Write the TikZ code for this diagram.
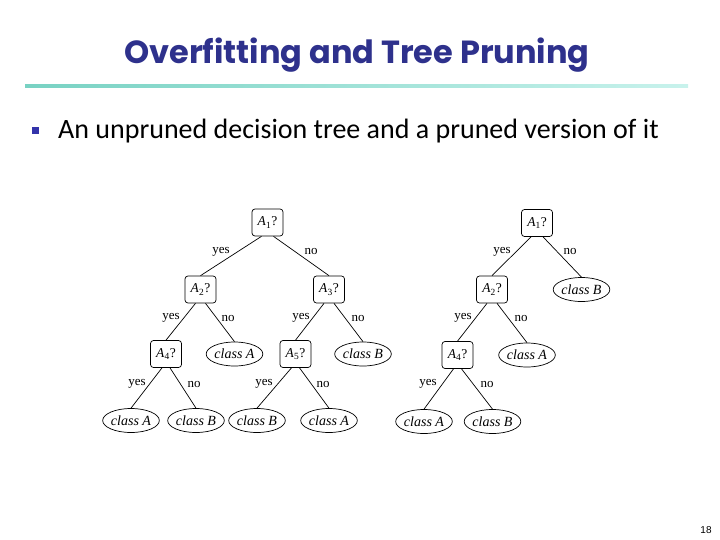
\documentclass[tikz,border=0pt]{standalone}
\usepackage{fontspec}
\setmainfont{Liberation Serif}
\newfontfamily\titlefont{Poppins Bold}
\newfontfamily\bodyfont{Carlito}
\newfontfamily\numfont{Liberation Sans}
\usetikzlibrary{shapes.geometric}
\definecolor{titleblue}{RGB}{46,49,140}
\definecolor{bulletblue}{RGB}{51,51,170}
\definecolor{lineteal}{RGB}{120,210,195}
\definecolor{linelight}{RGB}{200,242,236}
\tikzset{
  qbox/.style={draw, rounded corners=3pt, minimum width=31pt, minimum height=27pt, inner sep=1pt, font=\fontsize{13.5}{15}\selectfont, line width=0.7pt},
  leaf/.style={draw, ellipse, minimum width=54pt, minimum height=24pt, inner sep=0pt, font=\fontsize{14}{16}\selectfont\itshape, line width=0.7pt},
  lbl/.style={inner sep=0pt, font=\fontsize{13}{15}\selectfont},
  edge/.style={line width=0.7pt}
}
\newcommand{\qA}[1]{\textit{A}\textsubscript{#1}?}
\begin{document}
\begin{tikzpicture}[x=1pt,y=-1pt]
\useasboundingbox (0,0) rectangle (720,540);
% title
\node[text=titleblue, font=\titlefont\fontsize{32}{36}\selectfont] (title) at (357,55) {Overfitting and Tree Pruning};
\shade[left color=lineteal, right color=linelight] (25,84.5) rectangle (688,88);
% bullet
\fill[bulletblue] (32,127.5) rectangle (39,134.5) coordinate (bul);
\node[anchor=base west, inner sep=0pt, font=\bodyfont\fontsize{28}{32}\selectfont] (bullettext) at (58,139) {An unpruned decision tree and a pruned version of it};
% left tree
\node[qbox] (a1) at (267.5,222.5) {\qA{1}};
\node[qbox] (a2) at (200.5,289.5) {\qA{2}};
\node[qbox] (a3) at (329,289.5) {\qA{3}};
\node[qbox] (a4) at (166,354) {\qA{4}};
\node[leaf] (l1) at (234.5,354) {class A};
\node[qbox] (a5) at (295.5,354) {\qA{5}};
\node[leaf] (l2) at (363,354) {class B};
\node[leaf] (l3) at (131,420.5) {class A};
\node[leaf] (l4) at (196,420.5) {class B};
\node[leaf] (l5) at (257,420.5) {class B};
\node[leaf] (l6) at (329,420.5) {class A};
\draw[edge] ([xshift=-6pt]a1.south) -- (a2.north);
\draw[edge] ([xshift=6pt]a1.south) -- (a3.north);
\draw[edge] ([xshift=-5pt]a2.south) -- (a4.north);
\draw[edge] ([xshift=5pt]a2.south) -- (l1.north);
\draw[edge] ([xshift=-5pt]a3.south) -- (a5.north);
\draw[edge] ([xshift=5pt]a3.south) -- (l2.north);
\draw[edge] ([xshift=-4pt]a4.south) -- (l3.north);
\draw[edge] ([xshift=4pt]a4.south) -- (l4.north);
\draw[edge] ([xshift=-4pt]a5.south) -- (l5.north);
\draw[edge] ([xshift=4pt]a5.south) -- (l6.north);
\node[lbl] (y1) at (221,252) {yes};
\node[lbl] (n1) at (311,252) {no};
\node[lbl] (y2) at (171,318) {yes};
\node[lbl] (n2) at (228,318) {no};
\node[lbl] (y3) at (301,318) {yes};
\node[lbl] (n3) at (358,318) {no};
\node[lbl] (y4) at (137,384) {yes};
\node[lbl] (n4) at (194,384) {no};
\node[lbl] (y5) at (264,384) {yes};
\node[lbl] (n5) at (323,384) {no};
% right tree
\node[qbox] (b1) at (537,223) {\qA{1}};
\node[qbox] (b2) at (492,289.5) {\qA{2}};
\node[leaf] (m1) at (581.5,289.5) {class B};
\node[qbox] (b4) at (457.5,355) {\qA{4}};
\node[leaf] (m2) at (527,355) {class A};
\node[leaf] (m3) at (424,421.5) {class A};
\node[leaf] (m4) at (492.5,421.5) {class B};
\draw[edge] ([xshift=-6pt]b1.south) -- (b2.north);
\draw[edge] ([xshift=6pt]b1.south) -- (m1.north);
\draw[edge] ([xshift=-5pt]b2.south) -- (b4.north);
\draw[edge] ([xshift=5pt]b2.south) -- (m2.north);
\draw[edge] ([xshift=-4pt]b4.south) -- (m3.north);
\draw[edge] ([xshift=4pt]b4.south) -- (m4.north);
\node[lbl] (y6) at (502,252) {yes};
\node[lbl] (n6) at (570,252) {no};
\node[lbl] (y7) at (463,318) {yes};
\node[lbl] (n7) at (521,318) {no};
\node[lbl] (y8) at (428,384) {yes};
\node[lbl] (n8) at (487,384) {no};
% page number
\node[font=\numfont\fontsize{10}{12}\selectfont, inner sep=0pt] (page) at (706,530) {18};
\end{tikzpicture}
\end{document}
